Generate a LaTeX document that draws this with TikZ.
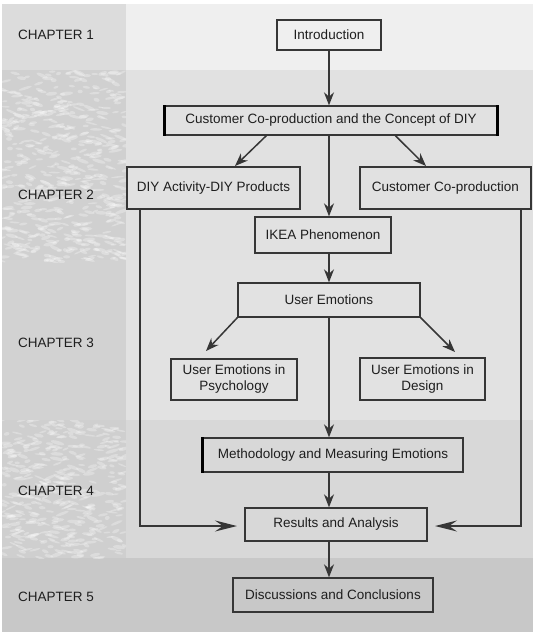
\documentclass[tikz,border=0pt]{standalone}
\usepackage{fontspec}
\setmainfont{Liberation Sans}
\usetikzlibrary{arrows.meta,calc}

\definecolor{edge}{HTML}{363636}
\definecolor{ink}{HTML}{1E1E1E}
\definecolor{bandAl}{HTML}{DCDCDC}
\definecolor{bandAr}{HTML}{EFEFEF}
\definecolor{bandBl}{HTML}{D0D0D0}
\definecolor{bandBr}{HTML}{E1E1E1}
\definecolor{bandCl}{HTML}{D2D2D2}
\definecolor{bandCr}{HTML}{E2E2E2}
\definecolor{bandDl}{HTML}{CFCFCF}
\definecolor{bandDr}{HTML}{D8D8D8}
\definecolor{bandE}{HTML}{C8C8C8}

\tikzset{
  box/.style={draw=edge, line width=1.3pt, text=ink, align=center,
    inner sep=2pt, font=\fontsize{13.5}{16}\selectfont},
  chap/.style={anchor=west, text=ink, inner sep=0pt,
    font=\fontsize{13.5}{16}\selectfont},
  arr/.style={draw=edge, line width=1.5pt,
    -{Stealth[length=13pt,width=10pt]}},
  longarr/.style={draw=edge, line width=1.5pt,
    -{Stealth[length=22pt,width=11pt,inset=8pt]}},
  thickedge/.style={draw=black, line width=3pt},
  speck/.style={fill=white, opacity=0.28},
}

\begin{document}
\begin{tikzpicture}[x=1pt,y=-1pt]
% page and chapter bands
\fill[white] (0,0) rectangle (536,632);
\useasboundingbox (0,0) rectangle (536,632);
\fill[bandAl] (2,4) rectangle (126,70);
\fill[bandAr] (126,4) rectangle (533,70);
\fill[bandBl] (2,70) rectangle (126,260);
\fill[bandBr] (126,70) rectangle (533,260);
\fill[bandCl] (2,260) rectangle (126,420);
\fill[bandCr] (126,260) rectangle (533,420);
\fill[bandDl] (2,420) rectangle (126,558);
\fill[bandDr] (126,420) rectangle (533,558);
\fill[bandE] (2,558) rectangle (533,632);

% speckled texture in the chapter 2 and chapter 4 side panels
\pgfmathsetseed{11}
\begin{scope}
  \clip (2,70) rectangle (126,262);
  \foreach \i in {1,...,520}{
    \pgfmathsetmacro\px{2+124*rnd}
    \pgfmathsetmacro\py{70+192*rnd}
    \pgfmathsetmacro\rw{2.5+4.5*rnd}
    \pgfmathsetmacro\rh{0.8+1.2*rnd}
    \pgfmathsetmacro\ang{-25+50*rnd}
    \fill[speck, rotate around={\ang:(\px,\py)}] (\px,\py) ellipse ({\rw} and {\rh});
  }
\end{scope}
\begin{scope}
  \clip (2,420) rectangle (126,558);
  \foreach \i in {1,...,380}{
    \pgfmathsetmacro\px{2+124*rnd}
    \pgfmathsetmacro\py{420+138*rnd}
    \pgfmathsetmacro\rw{2.5+4.5*rnd}
    \pgfmathsetmacro\rh{0.8+1.2*rnd}
    \pgfmathsetmacro\ang{-25+50*rnd}
    \fill[speck, rotate around={\ang:(\px,\py)}] (\px,\py) ellipse ({\rw} and {\rh});
  }
\end{scope}

% chapter labels
\node[chap] (c1) at (18,35) {CHAPTER 1};
\node[chap] (c2) at (18,195) {CHAPTER 2};
\node[chap] (c3) at (18,343) {CHAPTER 3};
\node[chap] (c4) at (18,491) {CHAPTER 4};
\node[chap] (c5) at (18,597) {CHAPTER 5};

% boxes
\node[box, minimum width=104pt, minimum height=30pt] (intro) at (329,35) {Introduction};
\node[box, minimum width=332pt, minimum height=29pt] (main) at (331,120.5)
  {Customer Co-production and the Concept of DIY};
\node[box, minimum width=173pt, minimum height=42pt] (diy) at (213.5,188) {DIY Activity-DIY Products};
\node[box, minimum width=171pt, minimum height=42pt] (ccp) at (445.5,188) {Customer Co-production};
\node[box, minimum width=136pt, minimum height=36pt] (ikea) at (323,235) {IKEA Phenomenon};
\node[box, minimum width=182pt, minimum height=34pt] (ue) at (329,300) {User Emotions};
\node[box, minimum width=126pt, minimum height=41pt] (psy) at (234,379.5) {User Emotions in\\Psychology};
\node[box, minimum width=125pt, minimum height=42pt] (des) at (422.5,379) {User Emotions in\\Design};
\node[box, minimum width=260pt, minimum height=34pt] (meth) at (333,455) {Methodology and Measuring Emotions};
\node[box, minimum width=182pt, minimum height=33pt] (res) at (336,524.5) {Results and Analysis};
\node[box, minimum width=200pt, minimum height=34pt] (disc) at (333,595) {Discussions and Conclusions};

% heavy side edges
\draw[thickedge] (main.north west) -- (main.south west);
\draw[thickedge] (main.north east) -- (main.south east);
\draw[thickedge] (meth.north west) -- (meth.south west);

% tips of the slanted arrows and the side routes
\coordinate (tdiy) at (235,166);
\coordinate (tccp) at (426,166);
\coordinate (tpsy) at (206,351);
\coordinate (tdes) at (455,352);
\coordinate (lbend) at (140,526);
\coordinate (rbend) at (521,526);
\coordinate (ltip) at (237,526);
\coordinate (rtip) at (435,526);

% main column
\draw[arr] (intro.south) -- (intro.south |- main.north);
\draw[arr] (intro.south |- main.south) -- (intro.south |- ikea.north);
\draw[arr] (intro.south |- ikea.south) -- (intro.south |- ue.north);
\draw[arr] (intro.south |- ue.south) -- (intro.south |- meth.north);
\draw[arr] (intro.south |- meth.south) -- (intro.south |- res.north);
\draw[arr] (intro.south |- res.south) -- (intro.south |- disc.north);

% branches
\draw[arr] ($(main.south west)+(102,0)$) -- (tdiy);
\draw[arr] ($(main.south west)+(231,0)$) -- (tccp);
\draw[arr] (ue.south west) -- (tpsy);
\draw[arr] (ue.south east) -- (tdes);

% side routes into the results box
\draw[longarr] (diy.south -| lbend) -- (lbend) -- (ltip);
\draw[longarr] (ccp.south -| rbend) -- (rbend) -- (rtip);
\end{tikzpicture}
\end{document}
